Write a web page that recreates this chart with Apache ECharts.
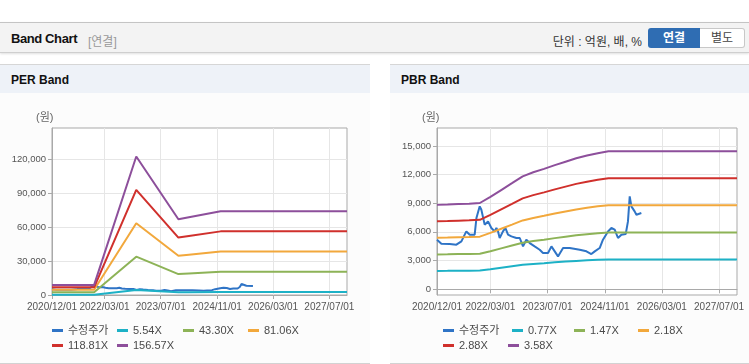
<!DOCTYPE html>
<html><head><meta charset="utf-8">
<script src="https://cdn.jsdelivr.net/npm/echarts@6/dist/echarts.min.js"></script>
<style>
html,body{margin:0;padding:0}
body{width:749px;height:364px;overflow:hidden;background:#fff;position:relative;font-family:"Liberation Sans","Noto Sans CJK KR",sans-serif}
#hdr{position:absolute;left:0;top:22px;width:749px;height:29px;background:#f3f3f3;border-top:1px solid #c4c4c4;border-bottom:1px solid #cfcfcf;box-shadow:0 1px 2px rgba(0,0,0,0.12)}
#hdr .t{position:absolute;left:11px;top:8px;font-size:13px;font-weight:bold;color:#111;letter-spacing:-0.4px}
#hdr .s{position:absolute;left:88px;top:9px;font-size:12px;color:#999}
#hdr .u{position:absolute;right:107px;top:9px;font-size:12px;color:#333}
#hdr .b1{position:absolute;left:648px;top:5px;width:52px;height:20px;line-height:20px;text-align:center;background:#2f6db3;color:#fff;font-size:12px;font-weight:bold;border-radius:3px 0 0 3px}
#hdr .b2{position:absolute;left:700px;top:5px;width:44px;height:18px;line-height:18px;text-align:center;background:#fff;color:#444;font-size:12px;border:1px solid #c8c8c8;border-left:none;border-radius:0 3px 3px 0}
.panel{position:absolute;top:64px;height:298px;background:#fcfcfc;border-top:1px solid #d6d6d6;border-bottom:1px solid #d2d2d2}
.ptitle{position:absolute;left:0;top:0;right:0;height:28px;background:#eef2f8}
.ptitle span{position:absolute;left:11px;top:8px;font-size:12px;font-weight:bold;color:#111}
.chart{position:absolute;left:0;top:28px;height:269px}
</style></head><body>
<div id="hdr"><span class="t">Band Chart</span><span class="s">[연결]</span><span class="u">단위 : 억원, 배, %</span><span class="b1">연결</span><span class="b2">별도</span></div>
<div class="panel" style="left:0;width:370px"><div class="ptitle"><span>PER Band</span></div><div id="per" class="chart" style="width:370px"></div></div>
<div class="panel" style="left:390px;width:359px"><div class="ptitle"><span>PBR Band</span></div><div id="pbr" class="chart" style="width:359px"></div></div>
<script>
// ---- shared axis data ----
const xTickLabels = ['2020/12/01','2022/03/01','2023/07/01','2024/11/01','2026/03/01','2027/07/01'];
const xStart = '2020/12/01';
const xEnd = '2027/12/01';

// ---- adjusted price (수정주가) ----
const priceName = '수정주가';
const priceDates = ['2020/12/01','2021/01/07','2021/03/19','2021/05/15','2021/06/27','2021/07/25','2021/08/08','2021/09/06','2021/10/18','2021/11/02','2021/11/30','2021/12/14','2022/01/11','2022/02/09','2022/03/09','2022/04/07','2022/04/21','2022/05/05','2022/05/19','2022/06/16','2022/07/07','2022/07/29','2022/08/27','2022/10/08','2022/11/06','2022/12/04','2023/01/01','2023/01/30','2023/03/13','2023/04/25','2023/05/23','2023/07/05','2023/08/03','2023/08/31','2023/09/28','2023/11/10','2024/01/06','2024/03/31','2024/05/27','2024/07/08','2024/08/06','2024/09/17','2024/10/15','2024/11/27','2024/12/26','2025/01/23','2025/02/20','2025/03/21','2025/04/27','2025/05/16','2025/05/31','2025/06/14','2025/07/12','2025/07/27','2025/09/07'];
const priceValues = [5170,4750,4720,4650,5000,5700,6040,5700,5700,7450,8670,8320,6750,7090,6400,6040,6400,6040,5350,6040,6400,5700,5520,5350,5350,4470,5170,4820,4470,4120,3780,3780,4470,3950,3420,4300,4300,4120,3950,3670,3950,4300,5170,6040,6400,6220,5350,5700,5770,7090,9710,8670,8140,7790,7970];

// ---- PER band ----
const perDates = ['2020/12/01','2021/12/01','2022/12/01','2023/12/01','2024/03/01','2024/12/01','2027/12/01'];
const perNames = ['5.54X','43.30X','81.06X','118.81X','156.57X'];
const perBand1 = [316,316,4338,2371,2438,2626,2626];
const perBand2 = [2468,2468,33904,18532,19052,20524,20524];
const perBand3 = [4620,4620,63470,34694,35666,38422,38422];
const perBand4 = [6772,6772,93028,50851,52276,56316,56316];
const perBand5 = [8924,8924,122594,67012,68891,74214,74214];
const perYTicks = [0,30000,60000,90000,120000];
const perYMin = 0, perYMax = 147800;

// ---- PBR band ----
const pbrDates = ['2020/12/01','2021/03/01','2021/06/01','2021/09/01','2021/12/01','2022/03/01','2022/06/01','2022/09/01','2022/12/01','2023/03/01','2023/06/01','2023/09/01','2023/12/01','2024/03/01','2024/06/01','2024/09/01','2024/12/01','2027/12/01'];
const pbrNames = ['0.77X','1.47X','2.18X','2.88X','3.58X'];
const pbrBand1 = [1898,1906,1917,1925,1940,2079,2233,2387,2541,2633,2710,2795,2872,2949,3011,3065,3106,3106];
const pbrBand2 = [3624,3638,3660,3675,3704,3969,4263,4557,4851,5027,5174,5336,5483,5630,5748,5851,5930,5930];
const pbrBand3 = [5374,5396,5428,5450,5494,5886,6322,6758,7194,7456,7674,7913,8131,8349,8524,8676,8794,8794];
const pbrBand4 = [7099,7128,7171,7200,7258,7776,8352,8928,9504,9850,10138,10454,10742,11030,11261,11462,11618,11618];
const pbrBand5 = [8825,8861,8914,8950,9022,9666,10382,11098,11814,12244,12602,12995,13353,13711,13998,14248,14442,14442];
const pbrYTicks = [0,3000,6000,9000,12000,15000];
const pbrYMin = -630, pbrYMax = 16890;

const unitLabel = '(원)';
const priceColor = '#2f74c6';
const bandColors = ['#1db1c6','#8db357','#f2a83c','#d0302c','#8d4f9b'];

function ts(s){ const p = s.split('/'); return new Date(+p[0], +p[1]-1, +p[2]).getTime(); }
function pairs(dates, vals){ return dates.map((d,i) => [ts(d), vals[i]]); }

const FONT = '"Liberation Sans","Noto Sans CJK KR",sans-serif';
const xTickTs = xTickLabels.map(ts);
function xLabel(v){ const i = xTickTs.indexOf(Number(v)); return i >= 0 ? xTickLabels[i] : ''; }

function buildOption(cfg){
  const series = [{
    name: priceName, type: 'line', showSymbol: false, symbol: 'none',
    data: pairs(priceDates, priceValues),
    lineStyle: { width: 2, color: priceColor }, itemStyle: { color: priceColor }
  }];
  cfg.names.forEach((n,i) => {
    series.push({
      name: n, type: 'line', showSymbol: false, symbol: 'none',
      data: pairs(cfg.dates, cfg.bands[i]),
      lineStyle: { width: 2, color: bandColors[i] }, itemStyle: { color: bandColors[i] }
    });
  });
  const allNames = [priceName].concat(cfg.names);
  const legends = allNames.map((n,i) => ({
    data: [n], left: cfg.legendPos[i][0], top: cfg.legendPos[i][1],
    padding: 0, icon: 'rect', itemWidth: 11, itemHeight: 3, itemGap: 0,
    textStyle: { fontSize: 11, color: '#4a4a4a', fontFamily: FONT }
  }));
  return {
    animation: false,
    textStyle: { fontFamily: FONT },
    grid: { left: cfg.grid[0], top: cfg.grid[1], width: cfg.grid[2], height: cfg.grid[3],
            show: true, borderColor: '#a9a9a9', borderWidth: 1, backgroundColor: '#ffffff' },
    legend: legends,
    graphic: [{ type: 'text', left: cfg.unitX, top: 19,
      style: { text: unitLabel, fontSize: 11, fill: '#666', fontFamily: FONT } }],
    xAxis: {
      type: 'value', min: ts(xStart), max: ts(xEnd),
      axisLine: { show: true, lineStyle: { color: '#a9a9a9' } },
      axisTick: { show: true, customValues: xTickTs, length: 4, lineStyle: { color: '#a9a9a9' } },
      axisLabel: { customValues: xTickTs, formatter: xLabel, fontSize: 10, color: '#555', margin: 7, fontFamily: FONT },
      splitLine: { show: true, lineStyle: { color: '#e6e6e6' } }
    },
    yAxis: {
      type: 'value', min: cfg.yMin, max: cfg.yMax,
      axisLine: { show: true, lineStyle: { color: '#a9a9a9' } },
      axisTick: { show: true, customValues: cfg.yTicks, length: 4, lineStyle: { color: '#a9a9a9' } },
      axisLabel: { customValues: cfg.yTicks, formatter: v => Number(v).toLocaleString('en-US'), fontSize: 9.5, color: '#555', margin: 6, fontFamily: FONT },
      splitLine: { show: true, lineStyle: { color: '#e6e6e6' } }
    },
    series: series
  };
}

const perChart = echarts.init(document.getElementById('per'), null, { renderer: 'canvas' });
perChart.setOption(buildOption({
  names: perNames, dates: perDates,
  bands: [perBand1, perBand2, perBand3, perBand4, perBand5],
  yTicks: perYTicks, yMin: perYMin, yMax: perYMax,
  grid: [52, 35, 295, 167], unitX: 36,
  legendPos: [[52,232],[117,232],[183,232],[248,232],[52,247],[117,247]]
}));

const pbrChart = echarts.init(document.getElementById('pbr'), null, { renderer: 'canvas' });
pbrChart.setOption(buildOption({
  names: pbrNames, dates: pbrDates,
  bands: [pbrBand1, pbrBand2, pbrBand3, pbrBand4, pbrBand5],
  yTicks: pbrYTicks, yMin: pbrYMin, yMax: pbrYMax,
  grid: [47, 35, 300, 167], unitX: 32,
  legendPos: [[53,232],[122,232],[184,232],[248,232],[53,247],[118,247]]
}));
</script>
</body></html>
